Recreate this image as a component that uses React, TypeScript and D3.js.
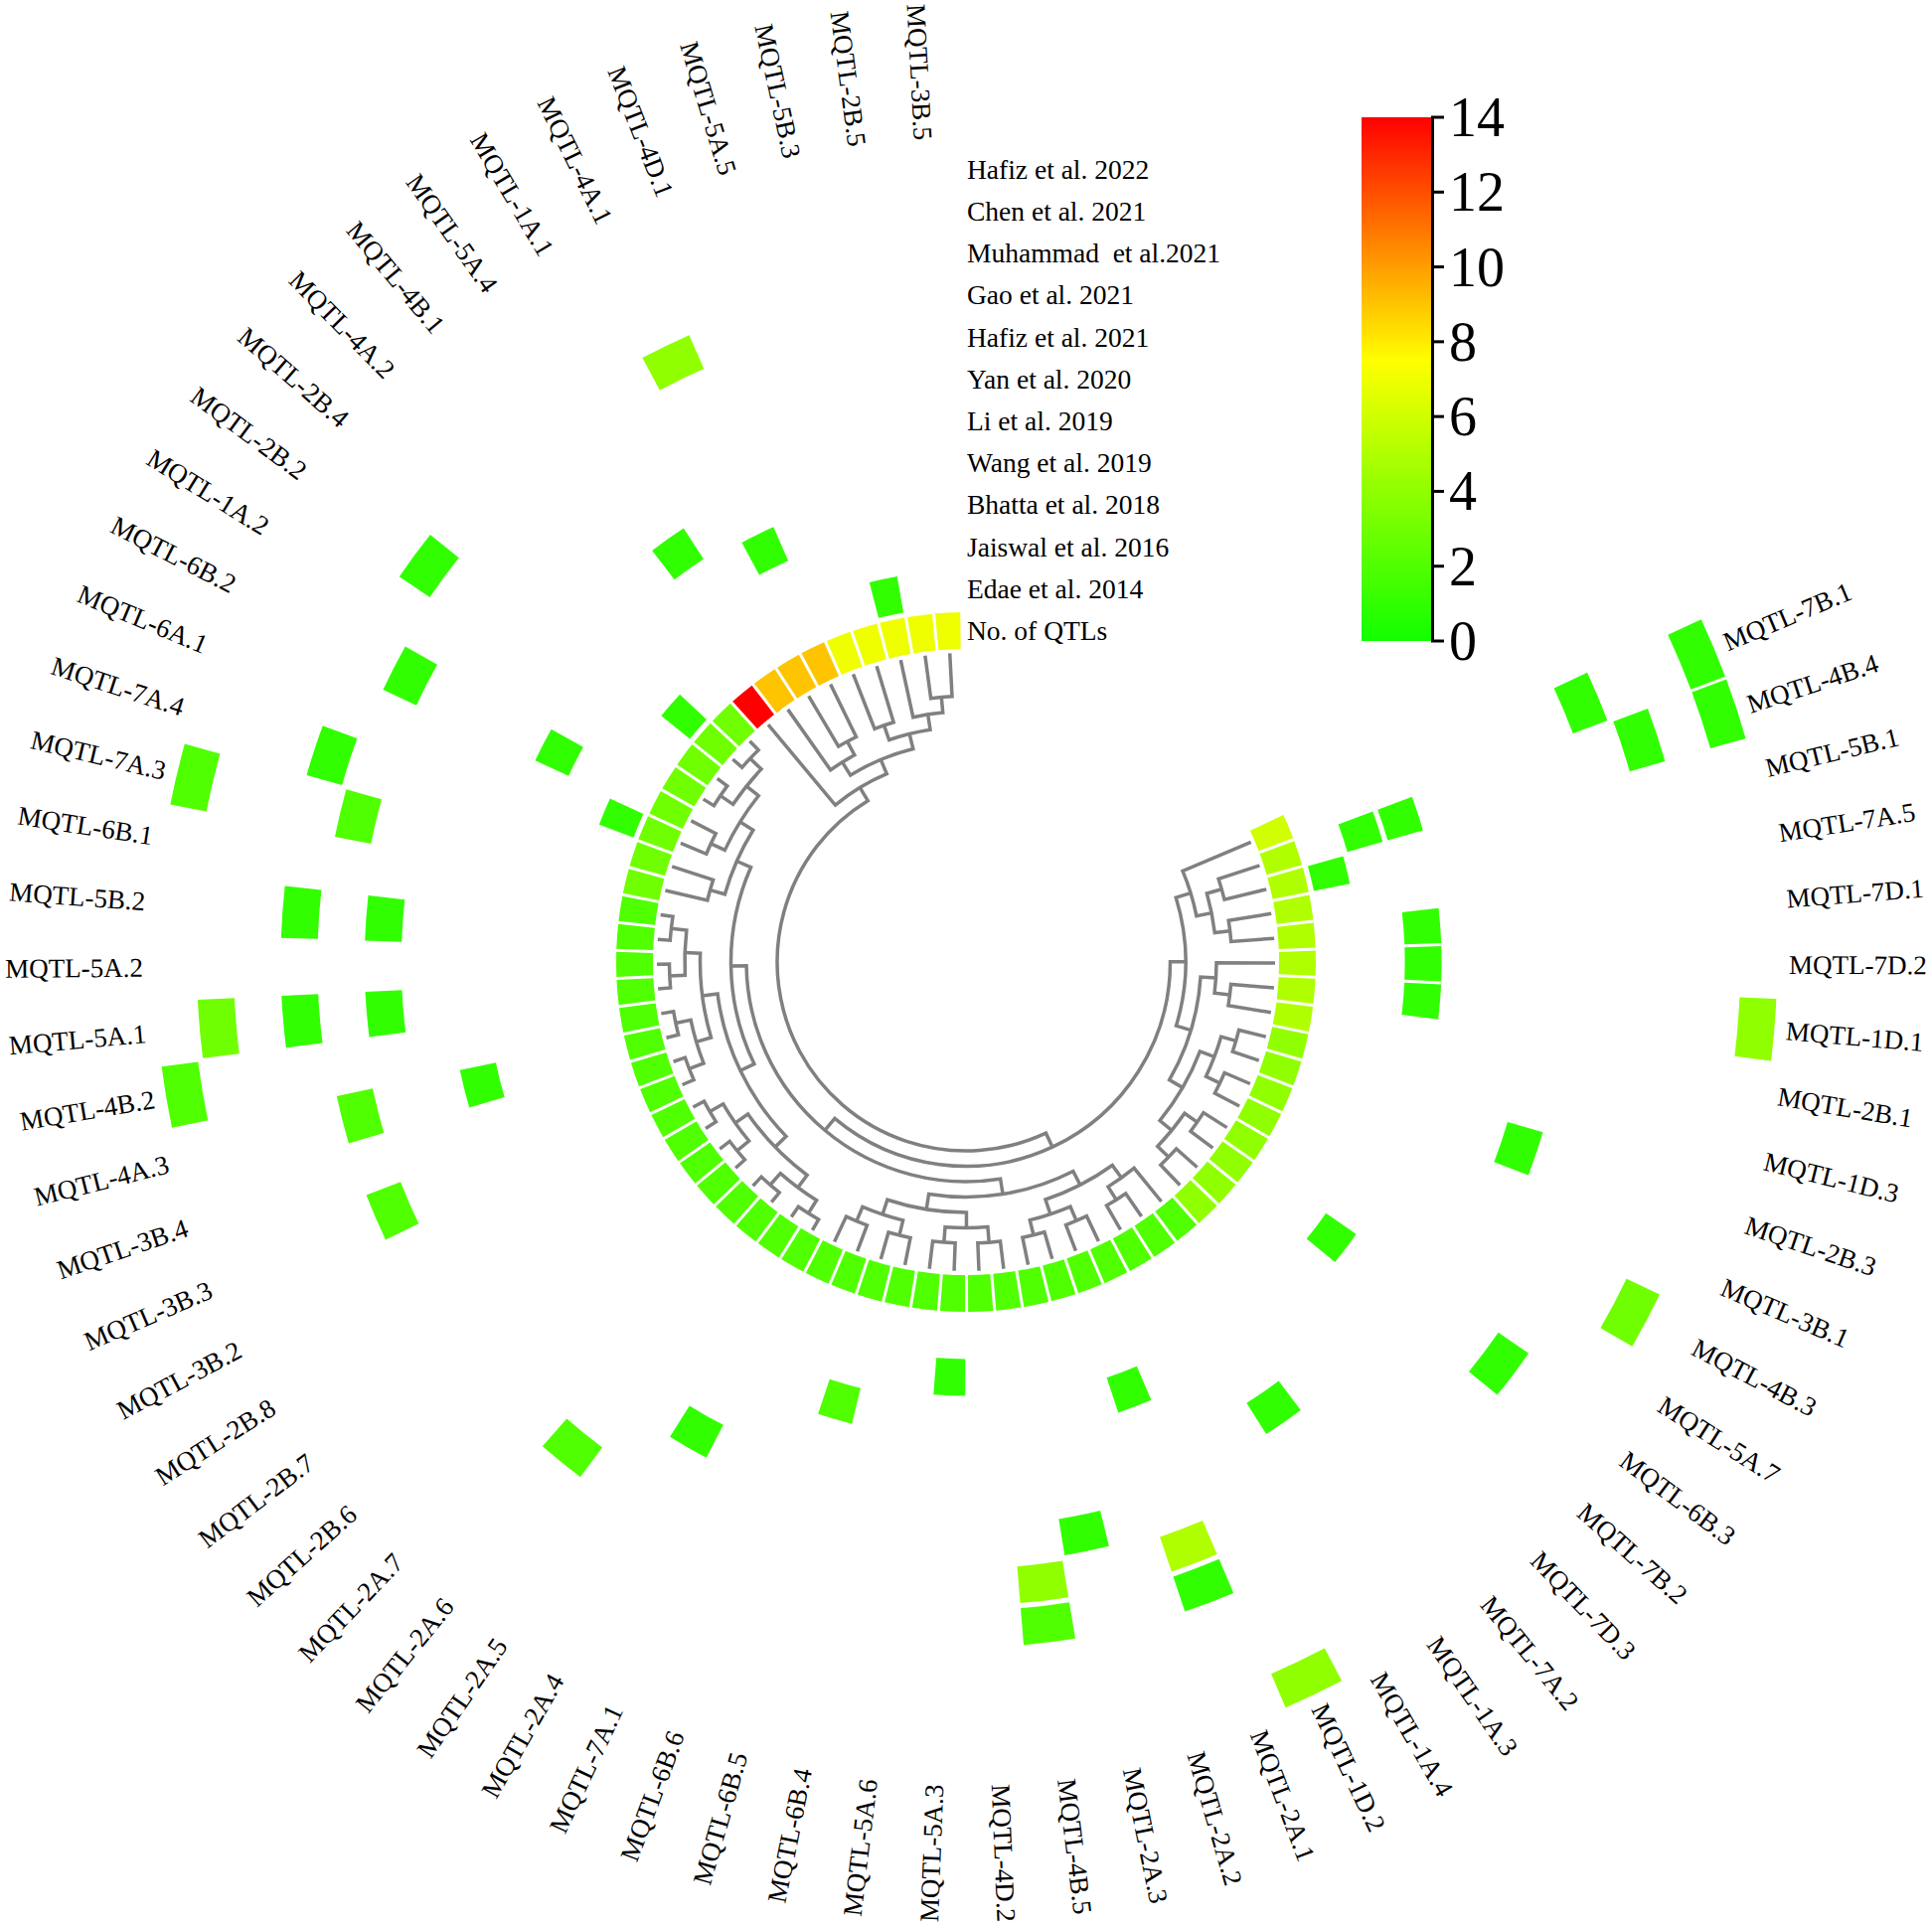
import React from "react";
import * as d3 from "d3";

// ---------- DATA ----------
const mqtls = [
  "MQTL-7B.1", "MQTL-4B.4", "MQTL-5B.1", "MQTL-7A.5", "MQTL-7D.1", "MQTL-7D.2", "MQTL-1D.1", "MQTL-2B.1",
  "MQTL-1D.3", "MQTL-2B.3", "MQTL-3B.1", "MQTL-4B.3", "MQTL-5A.7", "MQTL-6B.3", "MQTL-7B.2", "MQTL-7D.3",
  "MQTL-7A.2", "MQTL-1A.3", "MQTL-1A.4", "MQTL-1D.2", "MQTL-2A.1", "MQTL-2A.2", "MQTL-2A.3", "MQTL-4B.5",
  "MQTL-4D.2", "MQTL-5A.3", "MQTL-5A.6", "MQTL-6B.4", "MQTL-6B.5", "MQTL-6B.6", "MQTL-7A.1", "MQTL-2A.4",
  "MQTL-2A.5", "MQTL-2A.6", "MQTL-2A.7", "MQTL-2B.6", "MQTL-2B.7", "MQTL-2B.8", "MQTL-3B.2", "MQTL-3B.3",
  "MQTL-3B.4", "MQTL-4A.3", "MQTL-4B.2", "MQTL-5A.1", "MQTL-5A.2", "MQTL-5B.2", "MQTL-6B.1", "MQTL-7A.3",
  "MQTL-7A.4", "MQTL-6A.1", "MQTL-6B.2", "MQTL-1A.2", "MQTL-2B.2", "MQTL-2B.4", "MQTL-4A.2", "MQTL-4B.1",
  "MQTL-5A.4", "MQTL-1A.1", "MQTL-4A.1", "MQTL-4D.1", "MQTL-5A.5", "MQTL-5B.3", "MQTL-2B.5", "MQTL-3B.5",
];

const qtlCounts = [
  6, 5, 5, 5, 5, 5, 5, 5,
  4, 4, 4, 4, 4, 4, 4, 4,
  2, 2, 2, 2, 2, 2, 2, 2,
  2, 2, 2, 2, 2, 2, 2, 2,
  2, 2, 2, 2, 2, 2, 2, 2,
  2, 2, 2, 2, 2, 2, 2, 3,
  3, 3, 3, 3, 3, 3, 3, 14,
  9, 9, 9, 7, 7, 7, 7, 7,
];

const studies = [
  "Edae et al. 2014",
  "Jaiswal et al. 2016",
  "Bhatta et al. 2018",
  "Wang et al. 2019",
  "Li et al. 2019",
  "Yan et al. 2020",
  "Hafiz et al. 2021",
  "Gao et al. 2021",
  "Muhammad  et al.2021",
  "Chen et al. 2021",
  "Hafiz et al. 2022",
];

const edae2014: [string, number][] = [["MQTL-5B.1", 1], ["MQTL-6A.1", 1], ["MQTL-2B.4", 1], ["MQTL-5B.3", 1]];
const jaiswal2016: [string, number][] = [["MQTL-4B.4", 1], ["MQTL-5A.3", 1]];
const bhatta2018: [string, number][] = [
  ["MQTL-4B.4", 1], ["MQTL-7D.1", 1], ["MQTL-7D.2", 1], ["MQTL-1D.1", 1], ["MQTL-6B.3", 1],
  ["MQTL-2A.1", 1], ["MQTL-6B.5", 2], ["MQTL-6B.2", 1], ["MQTL-4A.1", 1],
];
const wang2019: [string, number][] = [["MQTL-4A.3", 1], ["MQTL-5A.4", 1]];
const li2019: [string, number][] = [["MQTL-1A.3", 1], ["MQTL-2A.4", 1]];
const yan2020: [string, number][] = [["MQTL-2B.3", 1], ["MQTL-2A.3", 1], ["MQTL-5A.1", 1], ["MQTL-5B.2", 1]];
const hafiz2021: [string, number][] = [
  ["MQTL-2A.1", 5], ["MQTL-4B.5", 4], ["MQTL-2A.6", 2], ["MQTL-3B.3", 2], ["MQTL-4A.3", 2],
  ["MQTL-7A.3", 2], ["MQTL-6B.2", 1],
];
const gao2021: [string, number][] = [
  ["MQTL-7B.1", 1], ["MQTL-6B.3", 1], ["MQTL-2A.1", 1], ["MQTL-4B.5", 2], ["MQTL-5A.1", 1],
  ["MQTL-5B.2", 1], ["MQTL-7A.4", 1], ["MQTL-2B.2", 1], ["MQTL-4A.1", 4],
];
const muhammad2021: [string, number][] = [["MQTL-4B.4", 1]];
const chen2021: [string, number][] = [["MQTL-4B.3", 3], ["MQTL-5A.1", 3]];
const hafiz2022: [string, number][] = [
  ["MQTL-7B.1", 1], ["MQTL-4B.4", 1], ["MQTL-1D.1", 4], ["MQTL-1D.2", 4], ["MQTL-4B.2", 2], ["MQTL-7A.3", 2],
];
const studyCells = [edae2014, jaiswal2016, bhatta2018, wang2019, li2019, yan2020, hafiz2021, gao2021, muhammad2021, chen2021, hafiz2022];

// clustering tree (leaf = index into mqtls)
const tree: any = [
  [
    [
      [0, [[1, 2], [3, 4]]],
      [[5, [6, 7]], [[[8, 9], [10, 11]], [[12, 13], [14, 15]]]],
    ],
    [
      [
        [[[29, 30], [27, 28]], [[25, 26], [23, 24]]],
        [[[19, 20], [21, 22]], [16, [17, 18]]],
      ],
      [
        [
          [[[31, 32], [33, 34]], [[35, 36], [37, 38]]],
          [[[39, 40], [41, 42]], [[43, 44], [45, 46]]],
        ],
        [[47, 48], [[49, 50], [[51, 52], [53, 54]]]],
      ],
    ],
  ],
  [55, [[56, [57, 58]], [[59, 60], [61, [62, 63]]]]],
];

const legendTicks = [0, 2, 4, 6, 8, 10, 12, 14];

// ---------- LAYOUT ----------
const W = 1944;
const H = 1940;
const CX = 972;
const CY = 968;
const LEAF_R = 311;
const RING0 = 315;
const RING_STEP = 42.2;
const CELL_H = 37;
const LABEL_R = 828;
const FONT = "'Liberation Serif', 'Times New Roman', serif";

export default function App() {
  const deg = Math.PI / 180;
  const angle = d3.scaleLinear().domain([0, mqtls.length - 1]).range([67.2 * deg, 357 * deg]);
  const half = 2.3 * deg;
  const depthR = d3.scaleLinear().domain([0, 7]).range([190, 298.5]);
  const color = d3
    .scaleLinear<string>()
    .domain([0, 7.5, 14])
    .range(["#11ff00", "#ffff00", "#ff0000"])
    .interpolate(d3.interpolateRgb);
  const arc = d3.arc<any>().padRadius(100).padAngle(0.03);

  const ringInner = (k: number) => RING0 + RING_STEP * k;

  const cells: { d: string; fill: string }[] = [];
  qtlCounts.forEach((v, i) => {
    cells.push({
      d: arc({ innerRadius: ringInner(0), outerRadius: ringInner(0) + CELL_H, startAngle: angle(i) - half, endAngle: angle(i) + half }) as string,
      fill: color(v),
    });
  });
  studyCells.forEach((list, s) => {
    list.forEach(([name, v]) => {
      const i = mqtls.indexOf(name);
      cells.push({
        d: arc({ innerRadius: ringInner(s + 1), outerRadius: ringInner(s + 1) + CELL_H, startAngle: angle(i) - half, endAngle: angle(i) + half }) as string,
        fill: color(v),
      });
    });
  });

  // dendrogram
  const paths: string[] = [];
  const pt = (a: number, r: number) => [CX + r * Math.sin(a), CY - r * Math.cos(a)];
  const build = (node: any, depth: number): { a: number; r: number } => {
    if (typeof node === "number") return { a: angle(node), r: LEAF_R };
    const kids = node.map((c: any) => build(c, depth + 1));
    const r = depthR(depth);
    const sorted = [...kids].sort((p: any, q: any) => p.a - q.a);
    const k1 = sorted[0];
    const k2 = sorted[sorted.length - 1];
    const [x0, y0] = pt(k1.a, k1.r);
    const [x1, y1] = pt(k1.a, r);
    const [x2, y2] = pt(k2.a, r);
    const [x3, y3] = pt(k2.a, k2.r);
    const large = k2.a - k1.a > Math.PI ? 1 : 0;
    paths.push(`M${x0},${y0}L${x1},${y1}A${r},${r} 0 ${large} 1 ${x2},${y2}L${x3},${y3}`);
    return { a: (k1.a + k2.a) / 2, r };
  };
  build(tree, 0);

  // legend
  const legendY = d3.scaleLinear().domain([0, 14]).range([645, 118]);
  const LX = 1370;
  const LW = 70;

  return (
    <svg width={W} height={H} style={{ position: "absolute", left: 0, top: 0, background: "#fff" }} fontFamily={FONT}>
      <rect width={W} height={H} fill="#fff" />
      <defs>
        <linearGradient id="lg" x1="0" y1="1" x2="0" y2="0">
          <stop offset="0" stopColor={color(0)} />
          <stop offset={String(7.5 / 14)} stopColor={color(7.5)} />
          <stop offset="1" stopColor={color(14)} />
        </linearGradient>
      </defs>
      <g transform={`translate(${CX},${CY})`}>
        {cells.map((c, i) => (
          <path key={i} d={c.d} fill={c.fill} />
        ))}
      </g>
      <g fill="none" stroke="#808080" strokeWidth={3.5}>
        {paths.map((p, i) => (
          <path key={i} d={p} />
        ))}
      </g>
      <g fontSize={27} fill="#000">
        {mqtls.map((m, i) => {
          const aDeg = angle(i) / deg;
          const flip = aDeg >= 180;
          const t = flip
            ? `translate(${CX},${CY}) rotate(${aDeg - 90}) translate(${LABEL_R},0) rotate(180)`
            : `translate(${CX},${CY}) rotate(${aDeg - 90}) translate(${LABEL_R},0)`;
          return (
            <text key={m} transform={t} textAnchor={flip ? "end" : "start"} dominantBaseline="central">
              {m}
            </text>
          );
        })}
      </g>
      <g fontSize={27.5} fill="#000" style={{ whiteSpace: "pre" }}>
        <text x={973} y={CY - (ringInner(0) + CELL_H / 2)} dominantBaseline="central">No. of QTLs</text>
        {studies.map((s, k) => (
          <text key={s} x={973} y={CY - (ringInner(k + 1) + CELL_H / 2)} dominantBaseline="central" xmlSpace="preserve">
            {s}
          </text>
        ))}
      </g>
      <g>
        <rect x={LX} y={legendY(14)} width={LW} height={legendY(0) - legendY(14)} fill="url(#lg)" />
        <line x1={LX + LW + 1.5} x2={LX + LW + 1.5} y1={legendY(14)} y2={legendY(0)} stroke="#000" strokeWidth={3} />
        {legendTicks.map((t) => (
          <g key={t}>
            <line x1={LX + LW} x2={LX + LW + 13} y1={legendY(t)} y2={legendY(t)} stroke="#000" strokeWidth={3} />
            <text x={LX + LW + 18} y={legendY(t)} fontSize={56} dominantBaseline="central">
              {t}
            </text>
          </g>
        ))}
      </g>
    </svg>
  );
}
